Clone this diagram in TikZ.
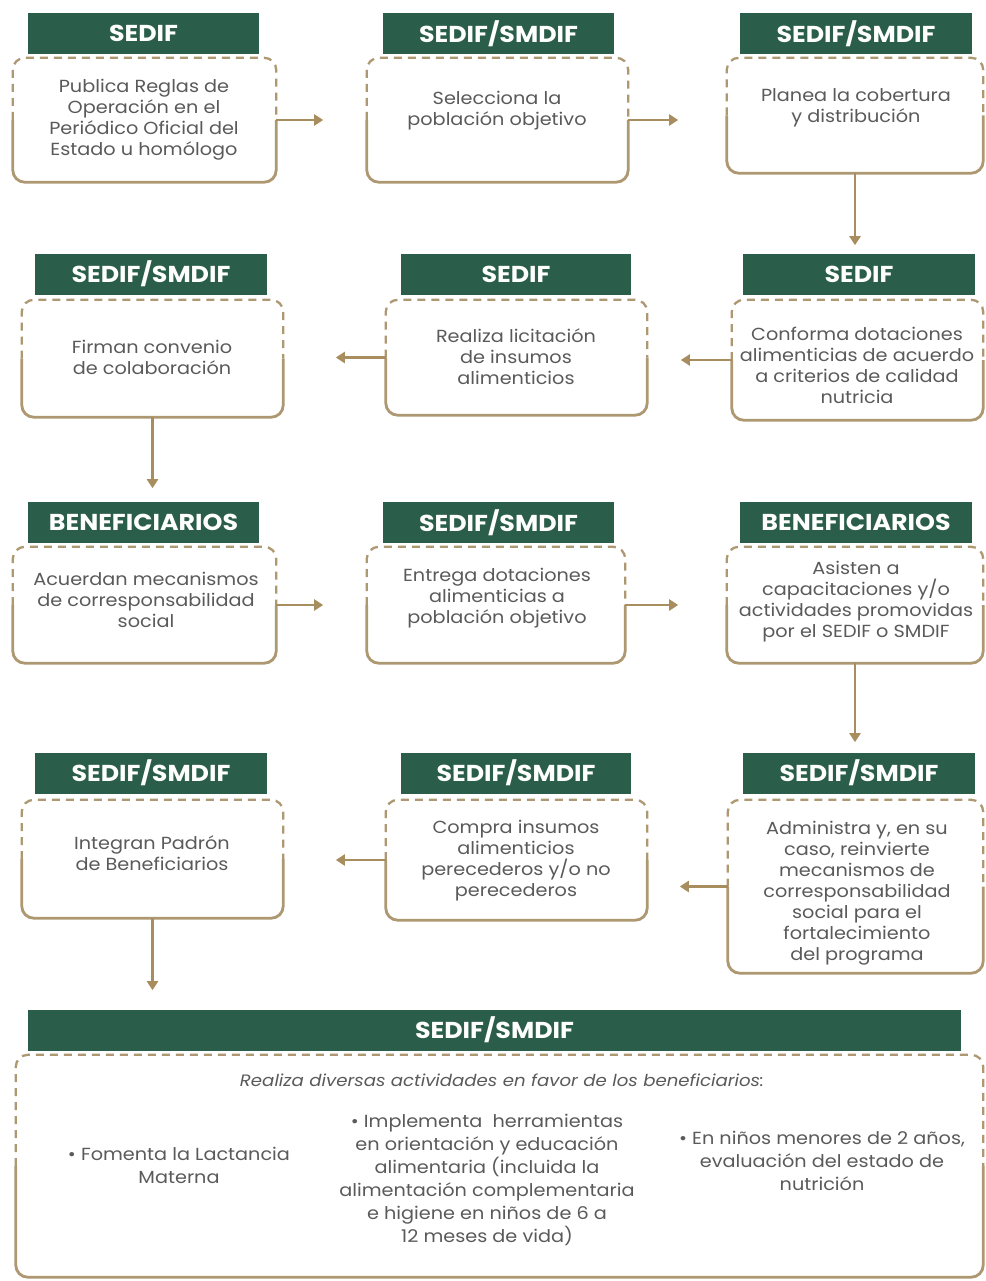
\documentclass[tikz,border=0pt]{standalone}
\usepackage{fontspec}
\setmainfont{Poppins}[FakeStretch=1.1]
\usetikzlibrary{arrows.meta}
\definecolor{hdr}{HTML}{2A5E4B}
\definecolor{brd}{HTML}{AE9872}
\definecolor{arrc}{HTML}{A88D5F}
\definecolor{txt}{HTML}{5A5A5A}
\tikzset{
  hdrbox/.style={fill=hdr, text=white, font=\fontsize{23}{26}\selectfont\bfseries, minimum height=41pt, inner sep=0pt},
  bodybox/.style={inner sep=0pt, draw=none},
  bodytext/.style={text=txt, font=\fontsize{17.5}{21}\selectfont, align=center, inner sep=0pt},
  bottomtext/.style={text=txt, font=\fontsize{17.5}{23}\selectfont, align=center, inner sep=0pt},
  brdsolid/.style={draw=brd, line width=2.8pt, rounded corners=12pt},
  brddash/.style={draw=brd, line width=2.3pt, rounded corners=12pt, dash pattern=on 8pt off 6pt},
  arr/.style={draw=arrc, line width=2.8pt, -{Triangle[length=9pt,width=11pt]}},
}
\newcommand\flowbox[5]{%
  \node[bodybox, minimum width={(#4-#2)*1pt}, minimum height={(#5-#3)*1pt}] (#1) at ({(#2+#4)/2},{(#3+#5)/2}) {};
  \draw[brdsolid] (#1.west) -- (#1.south west) -- (#1.south east) -- (#1.east);
  \draw[brddash] (#1.west) -- (#1.north west) -- (#1.north east) -- (#1.east);
}
\begin{document}
\begin{tikzpicture}[x=1pt,y=-1pt]
\useasboundingbox[fill=white] (0,0) rectangle (985,1281);
% headers
\node[hdrbox, minimum width=231pt] (h1) at (143.5,33.5) {SEDIF};
\node[hdrbox, minimum width=231pt] (h2) at (498.5,33.5) {SEDIF/SMDIF};
\node[hdrbox, minimum width=232pt] (h3) at (856,33.5) {SEDIF/SMDIF};
\node[hdrbox, minimum width=232pt] (h4) at (151,274) {SEDIF/SMDIF};
\node[hdrbox, minimum width=230pt] (h5) at (516,274) {SEDIF};
\node[hdrbox, minimum width=232pt] (h6) at (859,274) {SEDIF};
\node[hdrbox, minimum width=231pt] (h7) at (143.5,522.5) {BENEFICIARIOS};
\node[hdrbox, minimum width=231pt] (h8) at (498.5,522.5) {SEDIF/SMDIF};
\node[hdrbox, minimum width=232pt] (h9) at (856,522.5) {BENEFICIARIOS};
\node[hdrbox, minimum width=232pt] (h10) at (151,773) {SEDIF/SMDIF};
\node[hdrbox, minimum width=230pt] (h11) at (516,773) {SEDIF/SMDIF};
\node[hdrbox, minimum width=232pt] (h12) at (859,773) {SEDIF/SMDIF};
\node[hdrbox, minimum width=933pt] (h13) at (494.5,1030) {SEDIF/SMDIF};
% bodies
\flowbox{b1}{13}{58}{276}{182}
\flowbox{b2}{367}{58}{628}{182}
\flowbox{b3}{727}{58}{983}{173}
\flowbox{b4}{22}{300}{283}{417}
\flowbox{b5}{386}{300}{647}{415}
\flowbox{b6}{732}{300}{983}{420}
\flowbox{b7}{13}{547}{276}{663}
\flowbox{b8}{367}{547}{625}{663}
\flowbox{b9}{727}{547}{983}{663}
\flowbox{b10}{22}{800}{283}{918}
\flowbox{b11}{386}{800}{647}{920}
\flowbox{b12}{728}{800}{983}{973}
\flowbox{b13}{16}{1055}{983}{1277}
% texts
\node[bodytext] (t1) at (144,120) {Publica Reglas de\\Operación en el\\Periódico Oficial del\\Estado u homólogo};
\node[bodytext] (t2) at (497,111) {Selecciona la\\población objetivo};
\node[bodytext] (t3) at (856,108) {Planea la cobertura\\y distribución};
\node[bodytext] (t4) at (152,357) {Firman convenio\\de colaboración};
\node[bodytext] (t5) at (516,357) {Realiza licitación\\de insumos\\alimenticios};
\node[bodytext] (t6) at (857,365) {Conforma dotaciones\\alimenticias de acuerdo\\a criterios de calidad\\nutricia};
\node[bodytext] (t7) at (146,600) {Acuerdan mecanismos\\de corresponsabilidad\\social};
\node[bodytext] (t8) at (497,598) {Entrega dotaciones\\alimenticias a\\población objetivo};
\node[bodytext] (t9) at (856,602) {Asisten a\\capacitaciones y/o\\actividades promovidas\\por el SEDIF o SMDIF};
\node[bodytext] (t10) at (152,853) {Integran Padrón\\de Beneficiarios};
\node[bodytext] (t11) at (516,861) {Compra insumos\\alimenticios\\perecederos y/o no\\perecederos};
\node[bodytext] (t12) at (857,893) {Administra y, en su\\caso, reinvierte\\mecanismos de\\corresponsabilidad\\social para el\\fortalecimiento\\del programa};
\node[bottomtext, font=\fontsize{16.5}{20}\selectfont\itshape] (t13) at (502,1080) {Realiza diversas actividades en favor de los beneficiarios:};
\node[bottomtext] (c1) at (179,1165) {• Fomenta la Lactancia\\Materna};
\node[bottomtext] (c2) at (487,1180) {• Implementa\ \ herramientas\\en orientación y educación\\alimentaria (incluida la\\alimentación complementaria\\e higiene en niños de 6 a\\12 meses de vida)};
\node[bottomtext] (c3) at (822,1161) {• En niños menores de 2 años,\\evaluación del estado de\\nutrición};
% connectors
\draw[arr] (b1.east) -- ++(47,0);
\draw[arr] (b2.east) -- ++(50,0);
\draw[arr] (b3.south) -- ++(0,72);
\draw[arr] (b6.west) -- ++(-51,0);
\draw[arr] (b5.west) -- ++(-50,0);
\draw[arr] (b4.south) -- ++(0,71);
\draw[arr] (b7.east) -- ++(47,0);
\draw[arr] (b8.east) -- ++(53,0);
\draw[arr] (b9.south) -- ++(0,79);
\draw[arr] (b12.west) -- ++(-48,0);
\draw[arr] (b11.west) -- ++(-50,0);
\draw[arr] (b10.south) -- ++(0,72);
\end{tikzpicture}
\end{document}
